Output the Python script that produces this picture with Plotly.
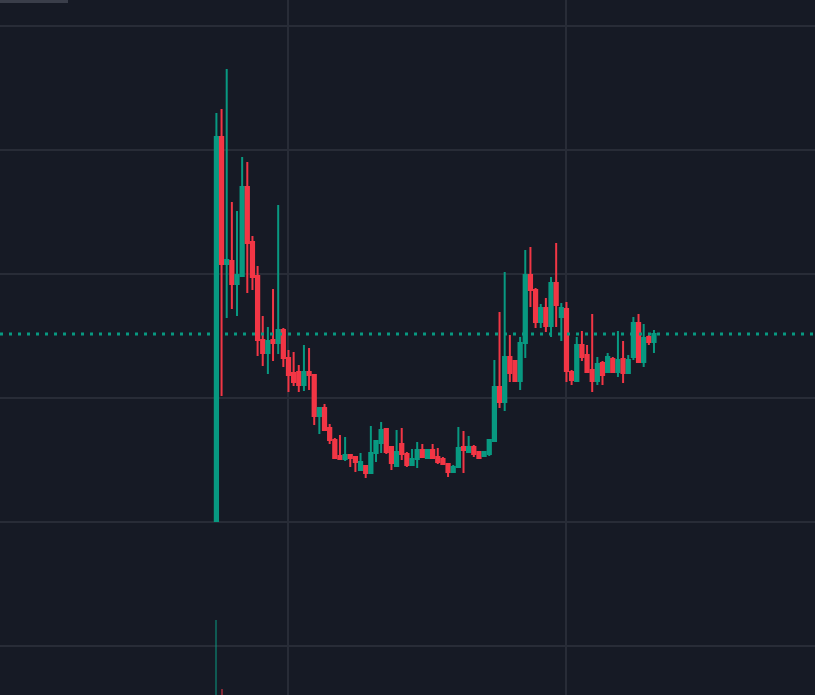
import plotly.graph_objects as go

# OHLC values (arbitrary price units; grid every 1.0)
opens = [2.008, 5.105, 4.081, 4.105, 3.919, 3.984, 4.702, 4.258, 3.984, 3.468,
         3.363, 3.468, 3.444, 3.548, 3.323, 3.202, 3.210, 3.105, 3.210, 3.185,
         2.855, 2.919, 2.758, 2.661, 2.532, 2.508, 2.540, 2.524, 2.419, 2.452,
         2.395, 2.556, 2.637, 2.750, 2.605, 2.452, 2.629, 2.548, 2.460, 2.508,
         2.581, 2.516, 2.581, 2.524, 2.508, 2.468, 2.403, 2.444, 2.605, 2.565,
         2.605, 2.565, 2.532, 2.548, 2.653, 3.089, 2.968, 3.331, 3.298, 3.137,
         3.444, 3.992, 3.871, 3.613, 3.726, 3.581, 3.927, 3.653, 3.718, 3.210,
         3.137, 3.427, 3.347, 3.226, 3.137, 3.282, 3.210, 3.315, 3.210, 3.315,
         3.202, 3.331, 3.605, 3.290, 3.492, 3.452]
highs = [5.298, 5.331, 5.653, 4.581, 4.508, 4.944, 4.903, 4.306, 4.065, 3.661,
         3.573, 3.879, 4.556, 3.565, 3.387, 3.371, 3.266, 3.427, 3.403, 3.194,
         2.919, 2.952, 2.790, 2.677, 2.702, 2.685, 2.540, 2.532, 2.556, 2.452,
         2.774, 2.653, 2.806, 2.758, 2.613, 2.742, 2.758, 2.565, 2.589, 2.645,
         2.629, 2.581, 2.629, 2.597, 2.524, 2.476, 2.460, 2.766, 2.734, 2.694,
         2.621, 2.565, 2.565, 2.661, 3.306, 3.694, 4.016, 3.508, 3.298, 3.492,
         4.194, 4.218, 3.887, 3.758, 3.806, 3.976, 4.250, 3.766, 3.774, 3.226,
         3.492, 3.540, 3.427, 3.677, 3.331, 3.298, 3.363, 3.331, 3.540, 3.460,
         3.347, 3.653, 3.677, 3.597, 3.508, 3.548]
lows = [2.008, 3.016, 3.645, 3.718, 3.661, 3.984, 3.847, 3.871, 3.339, 3.258,
        3.194, 3.298, 3.355, 3.250, 3.048, 3.097, 3.048, 3.056, 3.065, 2.782,
        2.710, 2.742, 2.629, 2.508, 2.508, 2.492, 2.444, 2.403, 2.419, 2.355,
        2.395, 2.484, 2.556, 2.548, 2.419, 2.452, 2.500, 2.444, 2.460, 2.435,
        2.516, 2.516, 2.508, 2.468, 2.460, 2.363, 2.403, 2.435, 2.395, 2.565,
        2.524, 2.516, 2.532, 2.532, 2.653, 2.919, 2.895, 3.129, 3.129, 3.065,
        3.323, 3.734, 3.565, 3.565, 3.532, 3.492, 3.573, 3.460, 3.129, 3.105,
        3.137, 3.298, 3.210, 3.048, 3.105, 3.105, 3.202, 3.210, 3.169, 3.121,
        3.202, 3.306, 3.282, 3.250, 3.427, 3.363]
closes = [5.105, 4.081, 4.113, 3.919, 3.992, 4.702, 4.250, 3.976, 3.468, 3.363,
          3.460, 3.444, 3.548, 3.323, 3.185, 3.129, 3.105, 3.210, 3.185, 2.855,
          2.919, 2.742, 2.661, 2.516, 2.508, 2.540, 2.516, 2.484, 2.484, 2.395,
          2.556, 2.653, 2.742, 2.565, 2.476, 2.565, 2.548, 2.460, 2.508, 2.581,
          2.524, 2.581, 2.516, 2.484, 2.468, 2.403, 2.444, 2.597, 2.581, 2.605,
          2.548, 2.516, 2.565, 2.661, 3.089, 2.968, 3.331, 3.202, 3.137, 3.444,
          3.992, 3.871, 3.613, 3.726, 3.581, 3.927, 3.750, 3.726, 3.218, 3.145,
          3.427, 3.331, 3.210, 3.137, 3.274, 3.185, 3.331, 3.210, 3.306, 3.202,
          3.306, 3.605, 3.290, 3.484, 3.452, 3.516]
volumes = [1000, 80, 4, 3, 3, 4, 3, 2, 3, 2,
           2, 2, 3, 2, 2, 2, 1, 2, 1, 2,
           2, 1, 1, 2, 1, 1, 1, 1, 1, 1,
           2, 1, 1, 1, 1, 1, 1, 1, 1, 1,
           1, 1, 1, 1, 1, 1, 1, 1, 1, 1,
           1, 1, 1, 1, 3, 2, 3, 2, 1, 2,
           3, 2, 2, 1, 1, 2, 2, 1, 2, 1,
           1, 1, 1, 2, 1, 1, 1, 1, 1, 1,
           1, 1, 1, 1, 1, 1]
xs = list(range(len(opens)))

UP = "#089981"
DOWN = "#F23645"
BG = "#161a25"
GRID = "#282c37"

vol_colors = ["rgba(8,153,129,0.5)" if c >= o else "rgba(242,54,69,0.5)"
              for o, c in zip(opens, closes)]

fig = go.Figure()
fig.add_trace(go.Bar(
    x=xs, y=volumes, yaxis="y2", marker=dict(color=vol_colors, line=dict(width=0)),
    width=0.4, hoverinfo="skip", showlegend=False,
))
fig.add_trace(go.Candlestick(
    x=xs, open=opens, high=highs, low=lows, close=closes,
    increasing=dict(line=dict(color=UP, width=2), fillcolor=UP),
    decreasing=dict(line=dict(color=DOWN, width=2), fillcolor=DOWN),
    whiskerwidth=0, showlegend=False,
))

# last price dotted line
fig.add_shape(type="line", xref="paper", x0=0, x1=1, yref="y",
              y0=closes[-1], y1=closes[-1],
              line=dict(color=UP, width=3, dash="3px,6px"))

# small toolbar remnant top-left
fig.add_shape(type="rect", xref="paper", yref="paper",
              x0=0, x1=68 / 815, y0=1 - 3 / 695, y1=1.01,
              fillcolor="#3a3e4a", line=dict(width=0))

fig.update_layout(
    width=815, height=695,
    margin=dict(l=0, r=0, t=0, b=0),
    paper_bgcolor=BG, plot_bgcolor=BG,
    boxgap=0.3, boxgroupgap=0.1,
    bargap=0,
    showlegend=False,
    xaxis=dict(range=[-42.04, 116.28], showticklabels=False, zeroline=False,
               showgrid=True, gridcolor=GRID, gridwidth=2,
               tickmode="array", tickvals=[14, 68], ticks="",
               rangeslider=dict(visible=False), showline=False, fixedrange=True),
    yaxis=dict(range=[0.6048, 6.2097], showticklabels=False, zeroline=False,
               showgrid=True, gridcolor=GRID, gridwidth=2, dtick=1, tick0=0,
               ticks="", showline=False),
    yaxis2=dict(overlaying="y", range=[0, 9270], visible=False, showgrid=False,
                zeroline=False),
)

fig.write_html(
    "out.html",
    config={"displayModeBar": False},
    post_script="document.body.style.margin='0';document.body.style.background='%s';" % BG,
)
